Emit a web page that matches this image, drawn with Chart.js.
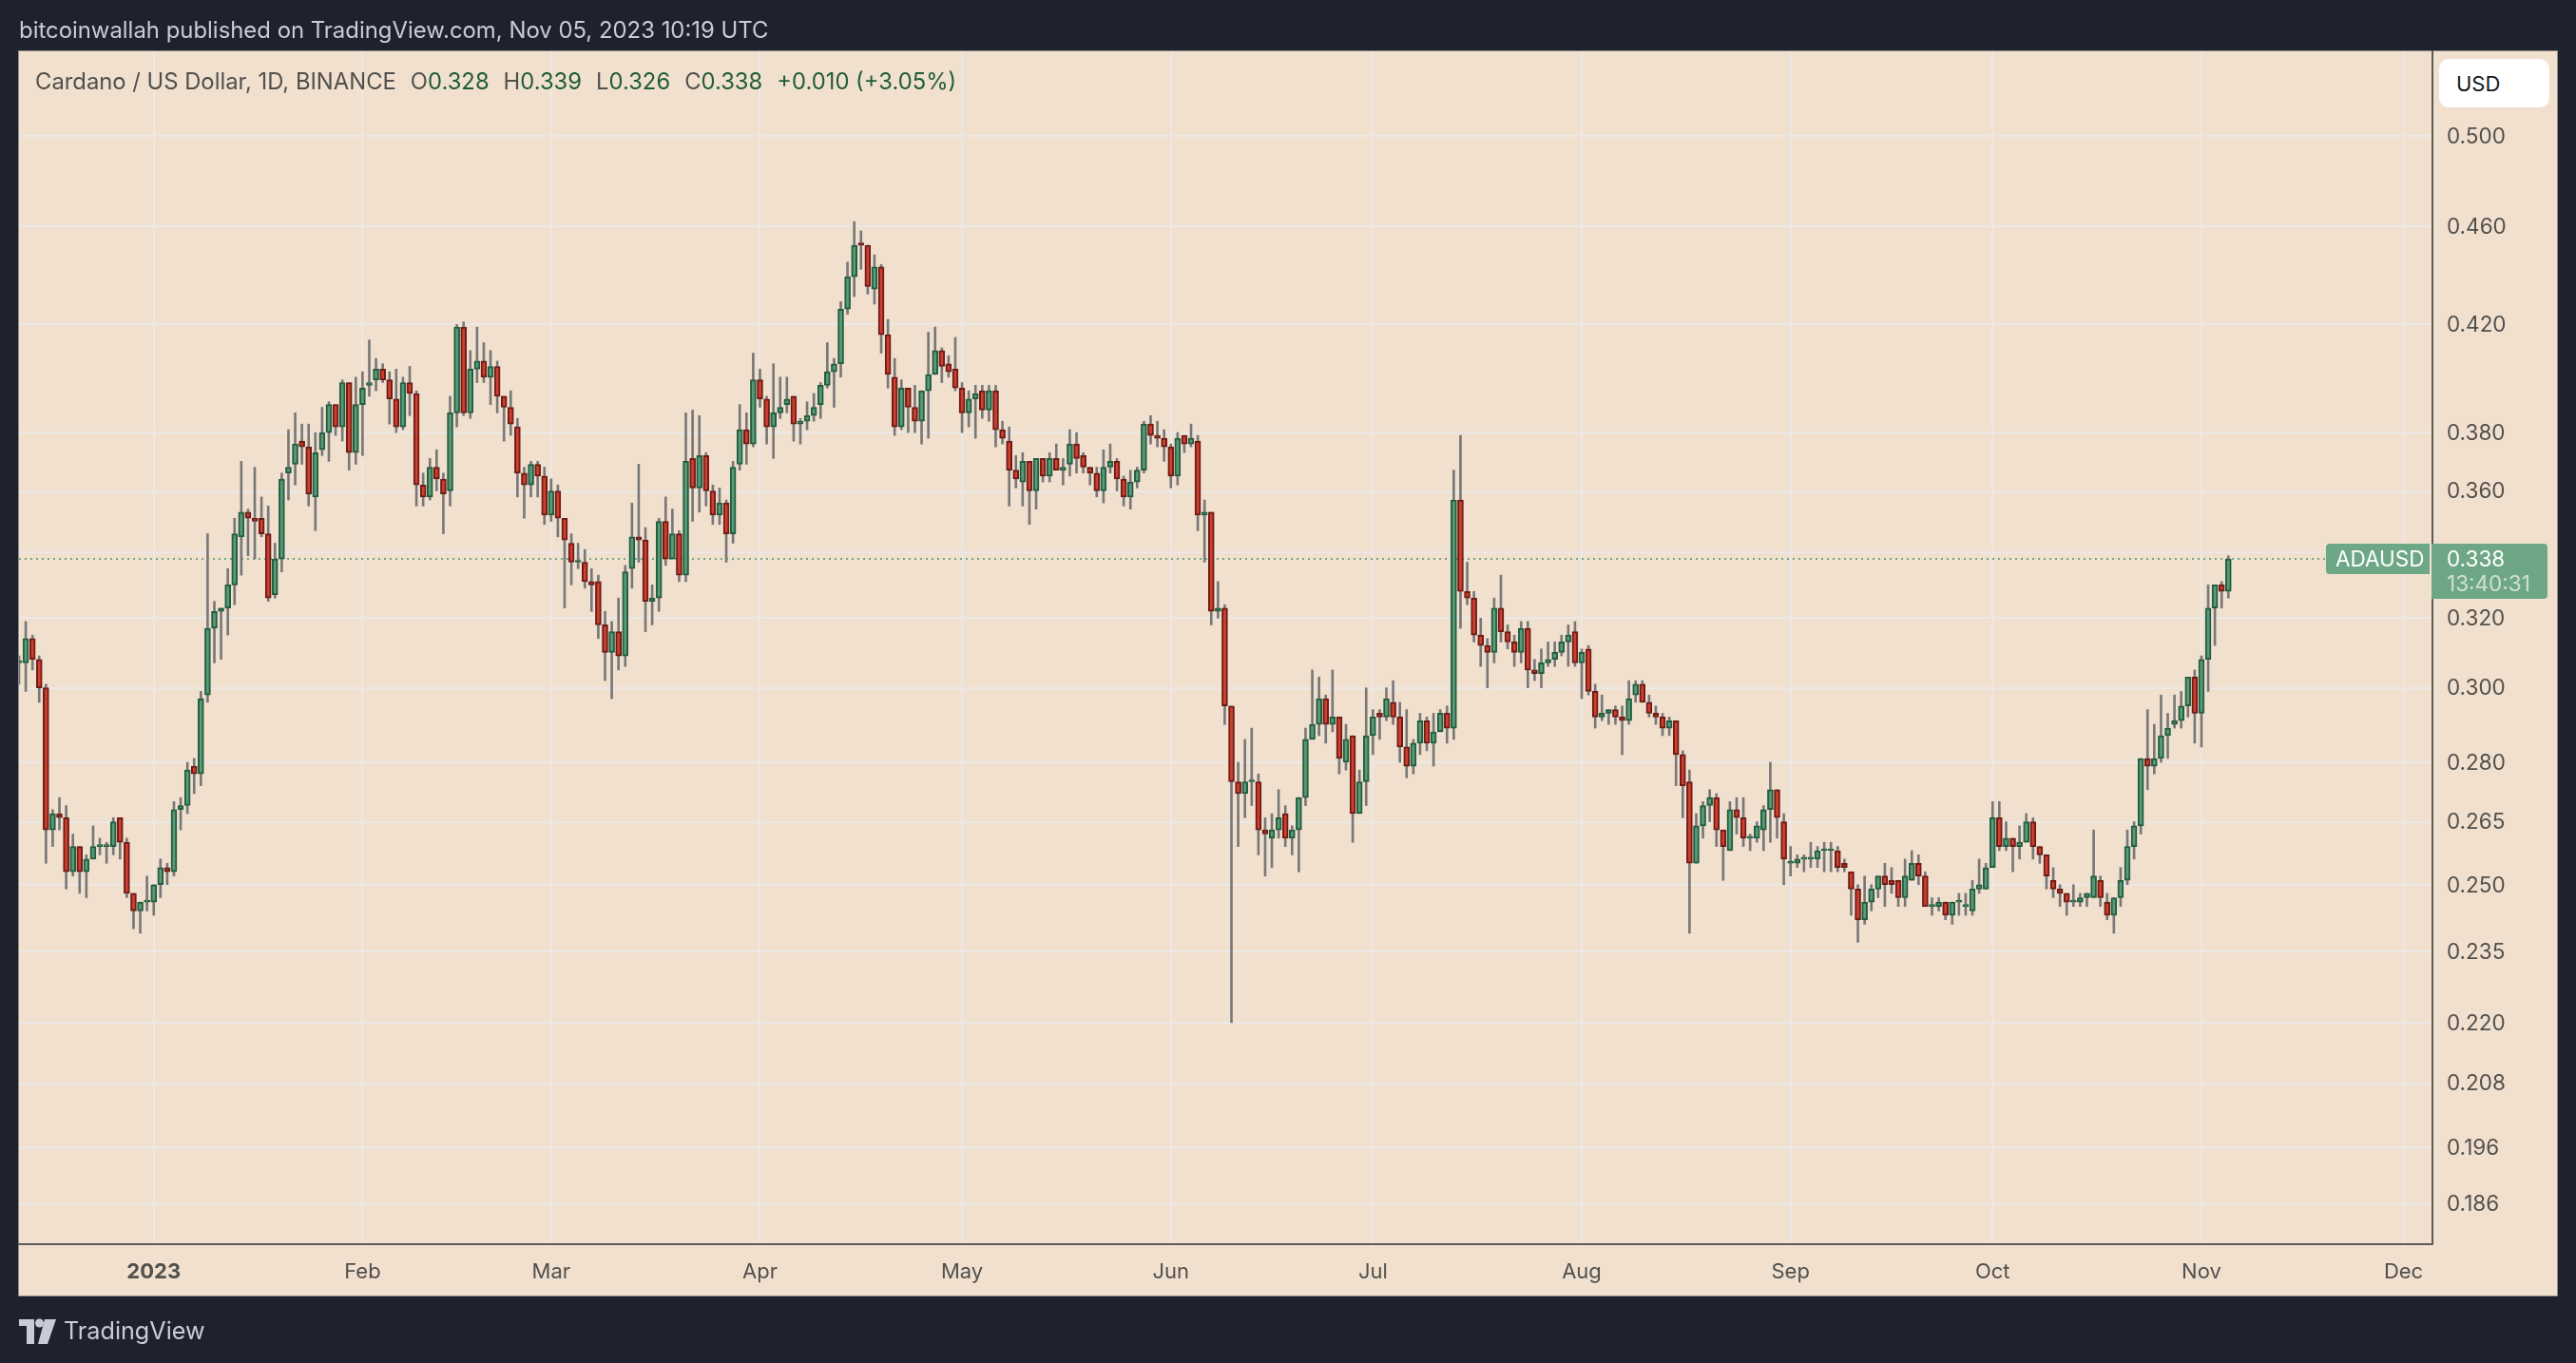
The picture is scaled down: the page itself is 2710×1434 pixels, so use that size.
<!DOCTYPE html>
<html>
<head>
<meta charset="utf-8">
<title>ADAUSD</title>
<script src="https://cdn.jsdelivr.net/npm/chart.js@4/dist/chart.umd.min.js"></script>
<style>
  html, body { margin: 0; padding: 0; background: #1e222d; }
  body { width: 2710px; height: 1434px; overflow: hidden; position: relative; font-family: Inter, sans-serif; }
  canvas { position: absolute; left: 0; top: 0; }
  .txt { position: absolute; white-space: pre; line-height: 1; }
  #published { left: 20px; top: 20px; font-size: 23.9px; color: #c9ccd8; }
  #legend { left: 37px; top: 74px; font-size: 23.8px; color: #50504c; }
  #legend b { font-weight: 400; color: #1f5c3a; }
  #legend i { font-style: normal; margin-left: 15px; }
  #brand { left: 67px; top: 1388px; font-size: 25.2px; color: #c9ccd8; }
  #usd { left: 2566px; top: 62px; width: 116px; height: 51px; background: #fff; border-radius: 10px; box-sizing: border-box; padding: 15px 0 0 18px; font-size: 22px; color: #131722; }
</style>
</head>
<body>
<canvas id="adaChart" width="2710" height="1434"></canvas>
<div class="txt" id="published">bitcoinwallah published on TradingView.com, Nov 05, 2023 10:19 UTC</div>
<div class="txt" id="legend">Cardano / US Dollar, 1D, BINANCE<i>O<b>0.328</b></i><i>H<b>0.339</b></i><i>L<b>0.326</b></i><i>C<b>0.338</b></i><i><b>+0.010 (+3.05%)</b></i></div>
<div class="txt" id="usd">USD</div>
<div class="txt" id="brand">TradingView</div>
<script>
// daily candles, first one is 12 Dec 2022, last one 5 Nov 2023
const opens = [
  .307,.307,.314,.308,.300,.263,.267,.266,.253,.259,
  .253,.256,.259,.259,.259,.266,.260,.248,.244,.246,
  .246,.250,.254,.253,.268,.269,.279,.277,.298,.317,
  .322,.323,.330,.345,.353,.351,.351,.346,.327,.338,
  .366,.369,.377,.375,.358,.374,.380,.390,.382,.398,
  .373,.390,.397,.399,.403,.399,.392,.382,.398,.394,
  .362,.358,.368,.364,.360,.387,.419,.387,.403,.406,
  .400,.404,.393,.389,.382,.366,.362,.369,.365,.352,
  .360,.351,.343,.337,.337,.331,.331,.318,.310,.316,
  .309,.335,.345,.344,.325,.326,.350,.338,.346,.333,
  .371,.361,.372,.360,.352,.356,.346,.369,.381,.376,
  .399,.392,.382,.387,.390,.393,.383,.384,.386,.390,
  .397,.402,.405,.426,.439,.453,.452,.434,.443,.416,
  .400,.382,.396,.389,.384,.395,.401,.410,.405,.403,
  .396,.387,.392,.395,.388,.395,.381,.377,.367,.363,
  .370,.360,.371,.365,.371,.367,.369,.376,.372,.368,
  .366,.360,.368,.370,.364,.358,.363,.367,.383,.379,
  .378,.375,.365,.379,.376,.377,.352,.353,.322,.323,
  .295,.275,.272,.275,.275,.263,.261,.263,.267,.261,
  .263,.271,.286,.290,.297,.290,.292,.280,.287,.267,
  .275,.287,.293,.292,.296,.292,.284,.279,.285,.291,
  .285,.288,.293,.289,.357,.328,.326,.315,.312,.310,
  .323,.316,.313,.310,.317,.305,.304,.307,.308,.310,
  .313,.316,.307,.311,.299,.292,.293,.294,.292,.291,
  .298,.301,.296,.293,.292,.289,.291,.282,.275,.255,
  .264,.269,.271,.263,.258,.268,.266,.261,.261,.263,
  .268,.273,.265,.255,.255,.256,.256,.256,.258,.258,
  .258,.255,.253,.249,.242,.246,.249,.252,.251,.251,
  .247,.251,.255,.252,.245,.245,.246,.243,.246,.245,
  .244,.249,.249,.254,.266,.259,.261,.259,.260,.265,
  .259,.257,.251,.249,.248,.246,.246,.247,.247,.251,
  .246,.243,.247,.251,.259,.264,.281,.279,.281,.287,
  .290,.291,.295,.303,.293,.308,.323,.330,.328
];
const highs = [
  .309,.319,.315,.309,.301,.268,.271,.269,.262,.259,
  .257,.264,.261,.260,.266,.266,.261,.248,.246,.252,
  .250,.256,.255,.270,.271,.280,.281,.299,.346,.325,
  .323,.335,.351,.370,.354,.368,.358,.355,.343,.366,
  .381,.387,.383,.383,.380,.389,.391,.390,.399,.398,
  .400,.402,.414,.407,.405,.402,.403,.400,.404,.395,
  .366,.371,.374,.366,.393,.420,.421,.410,.419,.413,
  .410,.406,.393,.395,.385,.368,.370,.370,.368,.364,
  .362,.351,.346,.343,.341,.335,.333,.322,.319,.326,
  .336,.356,.369,.348,.330,.351,.358,.354,.347,.387,
  .388,.386,.373,.362,.361,.357,.370,.390,.387,.409,
  .403,.393,.405,.400,.400,.393,.385,.391,.394,.398,
  .413,.407,.429,.445,.462,.458,.452,.448,.444,.422,
  .407,.399,.396,.397,.395,.417,.419,.411,.408,.415,
  .398,.395,.397,.397,.397,.397,.384,.382,.372,.373,
  .370,.371,.371,.373,.376,.371,.381,.380,.373,.368,
  .368,.374,.376,.371,.365,.367,.368,.384,.386,.384,
  .381,.376,.380,.379,.383,.379,.357,.353,.331,.324,
  .295,.280,.286,.289,.277,.266,.267,.273,.269,.264,
  .271,.289,.305,.303,.298,.305,.292,.290,.287,.278,
  .300,.294,.294,.300,.302,.296,.294,.286,.293,.292,
  .293,.294,.295,.367,.379,.337,.328,.320,.314,.326,
  .333,.318,.315,.319,.319,.308,.311,.313,.313,.315,
  .318,.319,.311,.312,.301,.298,.294,.295,.295,.302,
  .302,.302,.298,.295,.293,.292,.291,.283,.278,.267,
  .270,.273,.272,.263,.270,.271,.271,.262,.265,.269,
  .280,.273,.267,.259,.257,.257,.260,.259,.260,.260,
  .259,.256,.253,.250,.252,.250,.252,.255,.254,.251,
  .256,.258,.257,.253,.247,.247,.246,.246,.248,.248,
  .251,.256,.255,.270,.270,.265,.261,.264,.267,.266,
  .259,.257,.254,.250,.248,.250,.248,.248,.263,.252,
  .248,.247,.254,.263,.265,.281,.294,.290,.298,.293,
  .298,.299,.303,.305,.309,.330,.330,.331,.339
];
const lows = [
  .301,.299,.305,.296,.255,.259,.263,.249,.252,.248,
  .247,.256,.257,.255,.257,.256,.247,.240,.239,.244,
  .243,.247,.250,.252,.263,.267,.272,.274,.296,.307,
  .308,.315,.324,.333,.339,.338,.345,.325,.326,.334,
  .357,.362,.369,.355,.347,.372,.370,.379,.377,.367,
  .369,.372,.393,.395,.398,.383,.380,.381,.386,.355,
  .355,.357,.360,.346,.355,.382,.386,.385,.398,.398,
  .390,.387,.377,.379,.358,.351,.358,.358,.349,.350,
  .345,.323,.330,.335,.329,.322,.314,.302,.297,.305,
  .306,.329,.337,.316,.318,.322,.336,.338,.331,.331,
  .350,.353,.355,.349,.349,.337,.343,.367,.369,.375,
  .389,.376,.371,.385,.387,.377,.376,.381,.384,.385,
  .396,.389,.400,.424,.431,.442,.432,.428,.409,.396,
  .379,.381,.380,.380,.376,.378,.401,.398,.400,.395,
  .380,.382,.378,.385,.384,.375,.376,.355,.361,.355,
  .349,.354,.363,.363,.367,.362,.365,.366,.366,.362,
  .358,.356,.366,.360,.355,.354,.361,.366,.376,.375,
  .370,.361,.362,.373,.375,.347,.337,.318,.320,.290,
  .220,.259,.266,.269,.257,.252,.254,.261,.259,.257,
  .253,.269,.286,.287,.285,.288,.277,.278,.260,.267,
  .269,.282,.286,.291,.290,.280,.276,.277,.282,.283,
  .279,.288,.285,.286,.317,.324,.313,.306,.300,.307,
  .313,.311,.306,.307,.300,.302,.300,.306,.306,.309,
  .306,.306,.297,.298,.289,.291,.290,.290,.282,.290,
  .296,.296,.292,.290,.287,.287,.274,.266,.239,.255,
  .261,.265,.259,.251,.258,.262,.259,.258,.260,.258,
  .260,.261,.250,.252,.254,.253,.254,.254,.253,.253,
  .253,.253,.243,.237,.241,.244,.247,.245,.248,.245,
  .245,.251,.250,.245,.243,.244,.242,.241,.243,.243,
  .243,.248,.249,.254,.258,.258,.253,.256,.260,.256,
  .255,.249,.247,.245,.243,.245,.245,.245,.247,.245,
  .242,.239,.245,.250,.256,.262,.273,.277,.280,.281,
  .289,.289,.292,.285,.284,.299,.312,.323,.326
];
const closes = [
  .307,.314,.308,.300,.263,.267,.266,.253,.259,.253,
  .256,.259,.259,.259,.265,.260,.248,.244,.246,.246,
  .250,.254,.253,.268,.269,.278,.277,.297,.317,.322,
  .323,.330,.346,.353,.351,.350,.346,.326,.338,.364,
  .368,.376,.375,.359,.373,.380,.390,.382,.398,.373,
  .390,.396,.398,.403,.399,.392,.382,.398,.394,.362,
  .358,.368,.364,.359,.387,.419,.387,.403,.406,.400,
  .404,.393,.389,.383,.366,.362,.369,.365,.352,.360,
  .351,.344,.337,.337,.331,.330,.318,.310,.316,.309,
  .334,.345,.344,.325,.326,.350,.338,.346,.333,.370,
  .361,.372,.360,.352,.356,.346,.368,.381,.376,.399,
  .392,.382,.387,.389,.392,.383,.384,.386,.389,.397,
  .402,.405,.426,.439,.452,.452,.435,.443,.416,.401,
  .382,.396,.389,.384,.395,.401,.410,.404,.402,.396,
  .387,.392,.394,.388,.395,.381,.378,.367,.364,.370,
  .360,.371,.365,.371,.367,.368,.376,.371,.368,.366,
  .360,.368,.370,.364,.358,.363,.367,.383,.379,.378,
  .375,.365,.378,.376,.378,.352,.353,.322,.323,.295,
  .275,.272,.275,.275,.263,.262,.263,.266,.261,.263,
  .271,.286,.290,.297,.290,.292,.281,.286,.267,.275,
  .287,.292,.292,.297,.292,.284,.279,.285,.291,.285,
  .288,.293,.289,.357,.328,.326,.315,.312,.310,.323,
  .316,.313,.310,.317,.305,.304,.307,.308,.310,.313,
  .315,.307,.310,.299,.292,.293,.294,.292,.291,.297,
  .301,.296,.293,.292,.289,.291,.282,.274,.255,.264,
  .269,.271,.263,.259,.268,.266,.261,.261,.264,.268,
  .273,.266,.256,.255,.256,.256,.256,.258,.258,.258,
  .254,.254,.249,.242,.246,.249,.252,.250,.250,.247,
  .252,.255,.252,.245,.245,.246,.243,.246,.246,.245,
  .249,.250,.254,.266,.259,.261,.259,.260,.265,.259,
  .257,.252,.249,.248,.246,.246,.247,.248,.252,.247,
  .243,.247,.251,.259,.264,.281,.279,.281,.287,.289,
  .291,.295,.303,.293,.308,.323,.330,.328,.338
];

const priceTicks = [0.5, 0.46, 0.42, 0.38, 0.36, 0.34, 0.32, 0.3, 0.28, 0.265, 0.25, 0.235, 0.22, 0.208, 0.196, 0.186];
const monthLabels = ["2023", "Feb", "Mar", "Apr", "May", "Jun", "Jul", "Aug", "Sep", "Oct", "Nov", "Dec"];
const monthDays = [20, 51, 79, 110, 140, 171, 201, 232, 263, 293, 324, 354];

const symbolName = "ADAUSD";
const countdown = "13:40:31";

const UP_FILL = "#5c9a7a", UP_EDGE = "#215f3f";
const DOWN_FILL = "#cf4030", DOWN_EDGE = "#6e1c16";
const TAG = "#6ea785";
const GRID = "#ebe8e6";
const AXIS = "#5c5b58";

const days = opens.map((_, i) => i);
const wicks = days.map((i) => ({ x: i, y: [lows[i], highs[i]] }));
const bodies = days.map((i) => ({ x: i, y: [opens[i], closes[i]] }));
const isUp = (i) => closes[i] >= opens[i];

// page + pane background, and the tradingview mark
const backdrop = {
  id: "backdrop",
  beforeDraw(chart) {
    const { ctx, chartArea } = chart;
    ctx.save();
    ctx.fillStyle = "#1e222d";
    ctx.fillRect(0, 0, chart.width, chart.height);
    ctx.fillStyle = "#f2e0cf";
    ctx.fillRect(chartArea.left, chartArea.top, 2670, 1309);
    ctx.strokeStyle = "#8d8c88";
    ctx.lineWidth = 1;
    ctx.strokeRect(chartArea.left - 0.5, chartArea.top - 0.5, 2671, 1310);

    ctx.fillStyle = "#c9ccd8";
    ctx.fillRect(20, 1388, 16, 7);
    ctx.fillRect(28, 1388, 8, 26);
    ctx.beginPath();
    ctx.arc(41.5, 1392, 4.5, 0, Math.PI * 2);
    ctx.fill();
    ctx.beginPath();
    ctx.moveTo(47, 1388);
    ctx.lineTo(59, 1388);
    ctx.lineTo(50, 1414);
    ctx.lineTo(40, 1414);
    ctx.closePath();
    ctx.fill();
    ctx.restore();
  },
};

// dotted last price line under the candles
const lastPriceLine = {
  id: "lastPriceLine",
  beforeDatasetsDraw(chart) {
    const { ctx, chartArea, scales } = chart;
    const y = Math.round(scales.y.getPixelForValue(closes[closes.length - 1]));
    ctx.save();
    ctx.strokeStyle = TAG;
    ctx.lineWidth = 2;
    ctx.setLineDash([2, 4]);
    ctx.beginPath();
    ctx.moveTo(chartArea.left, y);
    ctx.lineTo(2447, y);
    ctx.stroke();
    ctx.restore();
  },
};

// green tags on the price axis
const priceTag = {
  id: "priceTag",
  afterDraw(chart) {
    const { ctx, scales } = chart;
    const last = closes[closes.length - 1];
    const y = Math.round(scales.y.getPixelForValue(last));
    ctx.save();
    ctx.fillStyle = TAG;
    ctx.beginPath();
    ctx.roundRect(2447, y - 16, 109, 32, [4, 0, 0, 4]);
    ctx.fill();
    ctx.beginPath();
    ctx.roundRect(2558, y - 16, 122, 58, [0, 4, 4, 0]);
    ctx.fill();
    ctx.font = "22.5px Inter, sans-serif";
    ctx.textBaseline = "middle";
    ctx.fillStyle = "#ffffff";
    ctx.fillText(symbolName, 2457, y + 1);
    ctx.fillText(last.toFixed(3), 2574, y + 1);
    ctx.fillStyle = "#cfe0d5";
    ctx.fillText(countdown, 2574, y + 27);
    ctx.restore();
  },
};

new Chart(document.getElementById("adaChart"), {
  type: "bar",
  data: {
    datasets: [
      {
        label: "wick",
        data: wicks,
        order: 2,
        grouped: false,
        barThickness: 2,
        backgroundColor: "#787878",
        borderWidth: 0,
      },
      {
        label: "body",
        data: bodies,
        order: 1,
        grouped: false,
        barThickness: 6,
        minBarLength: 2,
        backgroundColor: (c) => (isUp(c.dataIndex) ? UP_FILL : DOWN_FILL),
        borderColor: (c) => (isUp(c.dataIndex) ? UP_EDGE : DOWN_EDGE),
        borderWidth: 2,
        borderSkipped: false,
      },
    ],
  },
  options: {
    responsive: false,
    animation: false,
    devicePixelRatio: 1,
    layout: { padding: { left: 20, top: 54, right: 20, bottom: 71 } },
    scales: {
      x: {
        type: "linear",
        offset: false,
        min: 0,
        max: 358.3,
        afterBuildTicks: (scale) => {
          scale.ticks = monthDays.map((d) => ({ value: d }));
        },
        afterFit: (scale) => {
          scale.height = 54;
        },
        grid: { color: GRID, lineWidth: 2, drawTicks: false, offset: false },
        border: { color: AXIS, width: 2 },
        ticks: {
          autoSkip: false,
          maxRotation: 0,
          padding: 16,
          color: "#50504c",
          font: (c) => ({ family: "Inter, sans-serif", size: 22, weight: c.index === 0 ? "bold" : "normal" }),
          callback: (value) => monthLabels[monthDays.indexOf(value)],
        },
      },
      y: {
        type: "logarithmic",
        position: "right",
        min: 0.1792,
        max: 0.5409,
        afterBuildTicks: (scale) => {
          scale.ticks = priceTicks.map((v) => ({ value: v }));
        },
        afterFit: (scale) => {
          scale.width = 131;
        },
        grid: { color: GRID, lineWidth: 2, drawTicks: false },
        border: { color: AXIS, width: 2 },
        ticks: {
          autoSkip: false,
          padding: 15,
          labelOffset: 1,
          color: "#50504c",
          font: { family: "Inter, sans-serif", size: 22.5 },
          // 0.340 keeps its grid line but sits under the price tag
          callback: (value) => (value === 0.34 ? "" : value.toFixed(3)),
        },
      },
    },
    plugins: {
      legend: { display: false },
      tooltip: { enabled: false },
    },
  },
  plugins: [backdrop, lastPriceLine, priceTag],
});
</script>
</body>
</html>
